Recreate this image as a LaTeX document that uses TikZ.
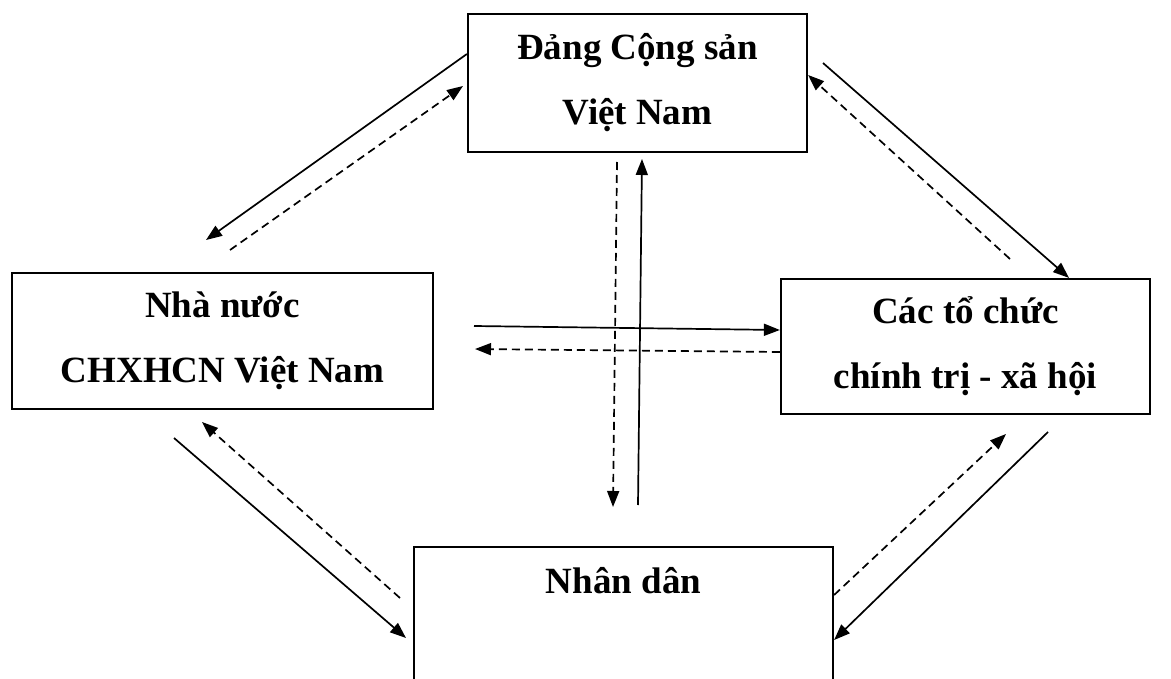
\documentclass[tikz,border=0pt]{standalone}
\usepackage{fontspec}
\setmainfont{Liberation Serif}
\usetikzlibrary{arrows.meta}

\tikzset{
  box/.style={draw, line width=2.2pt, inner sep=0pt, align=center,
    font=\fontsize{37}{65}\selectfont\bfseries},
  link/.style={line width=1.7pt, -{Triangle[length=16pt,width=12pt]}},
  back/.style={link, dash pattern=on 8pt off 5pt},
}

\begin{document}
\begin{tikzpicture}[x=1pt, y=-1pt]
        \useasboundingbox (0,0) rectangle (1171,679);
        \clip (0,0) rectangle (1171,679);

        % Boxes
        \node[box, minimum width=339pt, minimum height=138pt] (dang) at (637.5,83) {Đảng Cộng sản\\Việt Nam};
        \node[box, minimum width=421pt, minimum height=136pt] (nhanuoc) at (222.5,341) {Nhà nước\\CHXHCN Việt Nam};
        \node[box, minimum width=369pt, minimum height=135pt] (tochuc) at (965.5,346.5) {Các tổ chức\\chính trị - xã hội};
        \node[box, minimum width=419pt, minimum height=180pt, anchor=north] (nhandan) at (623.5,546) {};
        \node[anchor=base, font=\fontsize{37}{65}\selectfont\bfseries] (nhandanText) at ([yshift=-47pt]nhandan.north) {Nhân dân};

        % Free ends of the arrows
        \coordinate (nnTip) at (206,240);
        \coordinate (nnTail) at (230,250);
        \coordinate (dangTipL) at (463,86);
        \coordinate (tcTail) at (823,63);
        \coordinate (tcBack) at (1010,259);
        \coordinate (hTail) at (474,326);
        \coordinate (hTip) at (475,349);
        \coordinate (vTail) at (638,505);
        \coordinate (vTip) at (642,159);
        \coordinate (vBack) at (617,162);
        \coordinate (vDown) at (613,507);
        \coordinate (blTail) at (174,438);
        \coordinate (blTip) at (406,638);
        \coordinate (blBack) at (400,598);
        \coordinate (blUp) at (202,422);
        \coordinate (brTail) at (1048,432);
        \coordinate (brUp) at (1006,434);

        % Đảng <-> Nhà nước
        \draw[link] (dang.west |- 0,54) -- (nnTip);
        \draw[back] (nnTail) -- (dangTipL);

        % Đảng <-> Các tổ chức
        \draw[link] (tcTail) -- (tochuc.north -| 1069,0);
        \draw[back] (tcBack) -- (dang.east |- 0,75);

        % Nhà nước <-> Các tổ chức
        \draw[link] (hTail) -- (tochuc.west |- 0,330);
        \draw[back] (tochuc.west |- 0,352) -- (hTip);

        % Đảng <-> Nhân dân
        \draw[link] (vTail) -- (vTip);
        \draw[back] (vBack) -- (vDown);

        % Nhà nước <-> Nhân dân
        \draw[link] (blTail) -- (blTip);
        \draw[back] (blBack) -- (blUp);

        % Các tổ chức <-> Nhân dân
        \draw[link] (brTail) -- (nhandan.east |- 0,640);
        \draw[back] (nhandan.east |- 0,595) -- (brUp);
\end{tikzpicture}
\end{document}
